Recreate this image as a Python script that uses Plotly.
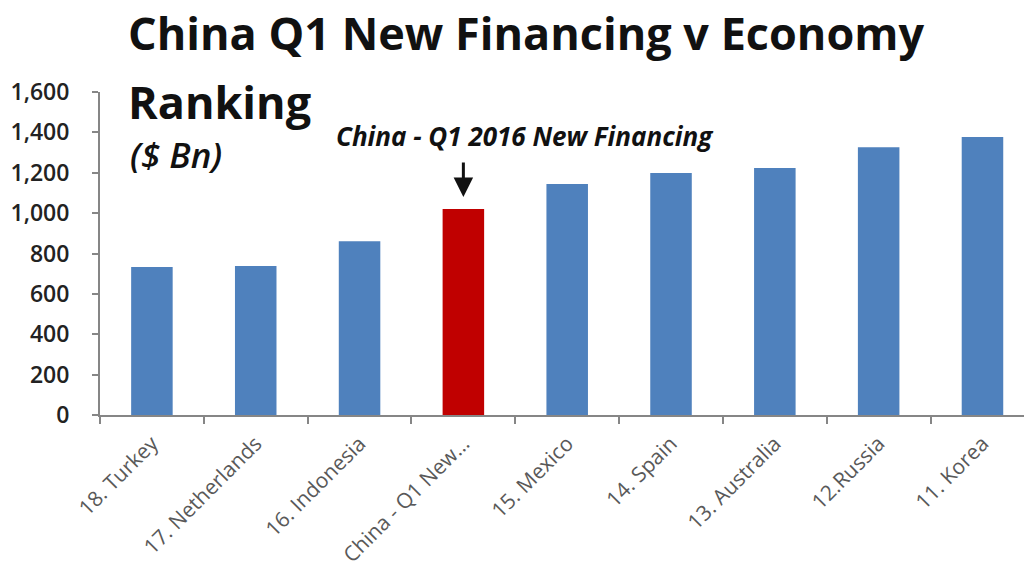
import plotly.graph_objects as go

# Economy ranking vs China's Q1 2016 new financing ($ Bn)
categories = ["18. Turkey", "17. Netherlands", "16. Indonesia", "China - Q1 New…",
              "15. Mexico", "14. Spain", "13. Australia", "12.Russia", "11. Korea"]
values = [733, 738, 861, 1020, 1144, 1199, 1223, 1326, 1377]
highlight = "China - Q1 New…"
y_ticks = [0, 200, 400, 600, 800, 1000, 1200, 1400, 1600]

BLUE = "#4F81BD"
RED = "#C00000"
AXIS = "#868686"

colors = [RED if c == highlight else BLUE for c in categories]

fig = go.Figure(go.Bar(
    x=categories, y=values, marker=dict(color=colors, line=dict(width=0)),
    width=0.4, showlegend=False,
))

L, T, B = 100, 92, 158
W, H = 1024, 573
pw, ph = W - L, H - T - B


def px(x):
    return (x - L) / pw


def py(y):
    return (H - B - y) / ph


fig.update_layout(
    width=W, height=H,
    margin=dict(l=L, r=0, t=T, b=B),
    paper_bgcolor="white", plot_bgcolor="white",
    bargap=0.6,
    font=dict(family="Open Sans", color="#222222"),
    xaxis=dict(
        type="category", range=[-0.5, 8.4], automargin=False,
        showline=True, linecolor=AXIS, linewidth=2,
        ticks="outside", tickson="boundaries", ticklen=7, tickcolor=AXIS, tickwidth=2,
        tickangle=-45, ticklabelstandoff=6,
        tickfont=dict(family="Open Sans", size=21, color="#595959"),
        showgrid=False, zeroline=False, fixedrange=True,
    ),
    yaxis=dict(
        range=[0, 1600], tickvals=y_ticks, automargin=False,
        ticktext=[f"{v:,}" for v in y_ticks],
        showline=True, linecolor=AXIS, linewidth=2,
        ticks="outside", ticklen=6, tickcolor=AXIS, tickwidth=2,
        ticklabelstandoff=18,
        tickfont=dict(family="Open Sans", size=23, color="#222222", weight=600),
        showgrid=False, zeroline=False, fixedrange=True,
    ),
)

annotations = [
    dict(text="China Q1 New Financing v Economy", x=px(126), y=py(32),
         font=dict(family="Open Sans", size=45, color="#111111", weight="bold")),
    dict(text="Ranking", x=px(126), y=py(101),
         font=dict(family="Open Sans", size=45, color="#111111", weight="bold")),
    dict(text="($ Bn)", x=px(128), y=py(154),
         font=dict(family="Open Sans", size=35, color="#111111", weight=600, style="italic")),
]
for a in annotations:
    a.update(xref="paper", yref="paper", xanchor="left", yanchor="middle", showarrow=False)
    fig.add_annotation(**a)

# Callout over the highlighted bar
hi = categories.index(highlight)
fig.add_annotation(
    text="China - Q1 2016 New Financing", xref="paper", yref="paper",
    x=px(525), y=py(136), xanchor="center", yanchor="middle", showarrow=False,
    font=dict(family="Open Sans", size=26, color="#111111", weight="bold", style="italic"),
)
fig.add_annotation(
    x=categories[hi], y=values[hi] + 60, xref="x", yref="y", text="",
    showarrow=True, arrowhead=2, arrowsize=1.3, arrowwidth=3, arrowcolor="#111111",
    ax=0, ay=-36, axref="pixel", ayref="pixel",
)

fig.write_html("out.html")
